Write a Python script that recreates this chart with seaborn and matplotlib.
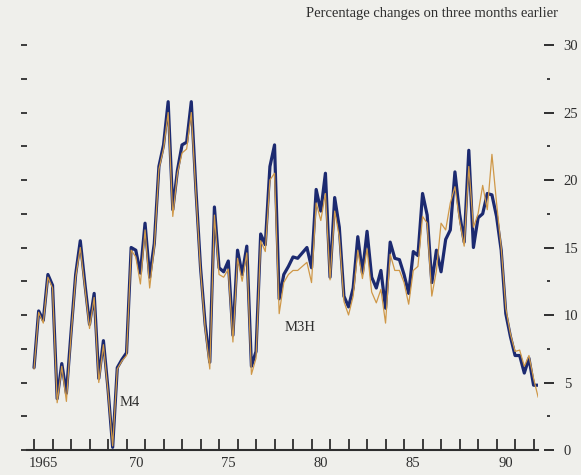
import numpy as np
import pandas as pd
import matplotlib
matplotlib.use('Agg')
import matplotlib.pyplot as plt
import seaborn as sns

# quarterly growth, percentage changes on three months earlier, from 1965 Q1
m4 = [6.1, 10.3, 9.6, 13.0, 12.2, 3.8, 6.4, 4.2, 8.7, 13.0,
      15.5, 12.3, 9.3, 11.6, 5.3, 8.1, 4.5, 0.2, 6.1, 6.7,
      7.2, 15.0, 14.8, 13.1, 16.8, 12.8, 15.3, 21.0, 22.6, 25.8,
      17.8, 20.7, 22.6, 22.8, 25.8, 19.3, 13.5, 9.3, 6.5, 18.0,
      13.5, 13.2, 14.0, 8.5, 14.8, 13.0, 15.1, 6.2, 7.3, 16.0,
      15.2, 21.0, 22.6, 11.2, 13.0, 13.6, 14.3, 14.2, 14.6, 15.0,
      13.5, 19.3, 17.7, 20.5, 12.8, 18.7, 16.5, 11.4, 10.6, 12.0,
      15.8, 13.1, 16.2, 12.8, 12.0, 13.3, 10.5, 15.4, 14.2, 14.1,
      13.0, 11.6, 14.7, 14.4, 19.0, 17.4, 12.4, 14.8, 13.2, 15.6,
      16.3, 20.6, 17.5, 15.4, 22.2, 15.0, 17.2, 17.5, 19.0, 18.9,
      17.3, 14.8, 10.1, 8.4, 7.0, 7.0, 5.7, 6.8, 4.8, 4.8]
m3h = [6.0, 10.2, 9.4, 12.8, 12.0, 3.5, 6.2, 3.6, 8.5, 12.8,
       15.0, 12.0, 9.0, 11.3, 5.0, 7.8, 4.3, 0.3, 6.0, 6.6,
       7.0, 14.8, 14.3, 12.3, 16.3, 12.0, 15.0, 20.8, 22.3, 25.0,
       17.3, 20.5, 22.0, 22.3, 25.0, 19.0, 13.3, 9.0, 6.0, 17.4,
       13.0, 12.8, 13.4, 8.0, 14.2, 12.5, 14.6, 5.6, 6.8, 15.5,
       14.7, 20.0, 20.5, 10.1, 12.4, 13.0, 13.3, 13.3, 13.6, 13.9,
       12.4, 18.3, 17.0, 19.0, 12.6, 17.7, 15.8, 11.0, 10.0, 11.4,
       14.8, 12.7, 14.9, 11.7, 10.9, 11.9, 9.4, 14.5, 13.3, 13.3,
       12.4, 10.8, 13.3, 13.6, 17.3, 16.8, 11.4, 13.3, 16.8, 16.3,
       18.3, 19.5, 17.0, 15.1, 21.0, 16.5, 17.5, 19.6, 17.8, 21.9,
       18.3, 15.0, 10.5, 8.6, 7.3, 7.4, 6.2, 7.0, 5.3, 3.9]
first_year = 1965
label_years = [1965, 1970, 1975, 1980, 1985, 1990]
year_labels = ['1965', '70', '75', '80', '85', '90']

bg = '#efefeb'
navy = '#1c2a70'
orange = '#cf9848'
ink = '#2e2e2e'

dates = first_year + np.arange(len(m4)) / 4
df = pd.DataFrame({
    'date': np.concatenate([dates, dates]),
    'growth': m4 + m3h,
    'series': ['M4'] * len(m4) + ['M3H'] * len(m3h),
})

sns.set_style('white', {'axes.facecolor': bg, 'figure.facecolor': bg,
                        'xtick.bottom': True, 'ytick.left': True})
plt.rcParams['font.family'] = ['Liberation Serif', 'DejaVu Serif']

fig = plt.figure(figsize=(5.81, 4.75), dpi=100)
ax = fig.add_axes([27 / 581, 25 / 475, 511 / 581, 405 / 475])

sns.lineplot(data=df, x='date', y='growth', hue='series', hue_order=['M4', 'M3H'],
             palette={'M4': navy, 'M3H': orange},
             size='series', sizes={'M4': 2.3, 'M3H': 0.9},
             legend=False, ax=ax)

ax.set_xlim(1964.62, 1992.24)
ax.set_ylim(0, 30)
ax.set_xlabel('')
ax.set_ylabel('')
for s in ['top', 'right', 'left']:
    ax.spines[s].set_visible(False)
ax.spines['bottom'].set_color(ink)
ax.spines['bottom'].set_linewidth(1.5)

# year ticks inside, labels centred on the year
ax.set_xticks(np.arange(1965, 1993))
ax.tick_params(axis='x', which='major', bottom=True, direction='in', length=8, width=1.3,
               color=ink, labelbottom=False)
ax.set_xticks([y + 0.5 for y in label_years], minor=True)
ax.set_xticklabels(year_labels, minor=True)
ax.tick_params(axis='x', which='minor', bottom=True, length=0, pad=5,
               labelsize=10.5, labelcolor=ink)

# left dashes
ax.set_yticks(np.arange(0, 30.1, 2.5))
ax.tick_params(axis='y', left=True, direction='out', length=4.3, width=1.3, color=ink,
               labelleft=False)

# right scale
ax_r = ax.twinx()
ax_r.set_ylim(0, 30)
for s in ax_r.spines.values():
    s.set_visible(False)
ax_r.spines['right'].set_position(('outward', 4.3))
ax_r.set_yticks(range(0, 31, 5))
ax_r.tick_params(axis='y', right=True, direction='out', length=7.2, width=1.4, color=ink,
                 pad=7, labelsize=10.5, labelcolor=ink)

ax_m = ax.twinx()
ax_m.set_ylim(0, 30)
for s in ax_m.spines.values():
    s.set_visible(False)
ax_m.spines['right'].set_position(('outward', 6.5))
ax_m.set_yticks(np.arange(2.5, 30, 5))
ax_m.tick_params(axis='y', right=True, direction='out', length=2.2, width=1.3, color=ink,
                 labelright=False)

ax.text(1969.6, 3.55, 'M4', va='center', ha='left', fontsize=10.5, color=ink)
ax.text(1978.55, 9.1, 'M3H', va='center', ha='left', fontsize=10.5, color=ink)

fig.text(558 / 581, 1 - 14 / 475, 'Percentage changes on three months earlier',
         ha='right', va='center', fontsize=10.5, color=ink)

fig.savefig('out.png', dpi=100, facecolor=bg)
